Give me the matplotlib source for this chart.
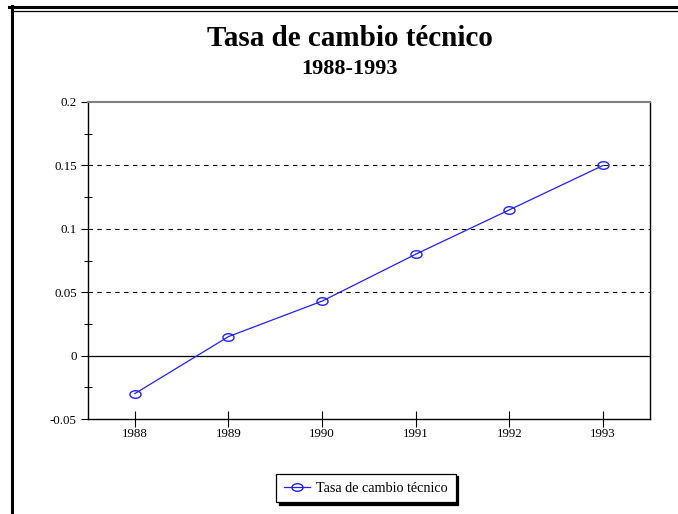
import matplotlib

matplotlib.use("Agg")

import matplotlib.pyplot as plt
import numpy as np
from matplotlib.lines import Line2D
from matplotlib.ticker import FixedLocator, MultipleLocator

years = [1988, 1989, 1990, 1991, 1992, 1993]
rates = [-0.030, 0.015, 0.043, 0.080, 0.115, 0.150]
y_ticks = [-0.05, 0, 0.05, 0.1, 0.15, 0.2]
y_labels = ["-0.05", "0", "0.05", "0.1", "0.15", "0.2"]
series_name = "Tasa de cambio técnico"

plt.rcParams["font.family"] = ["Liberation Serif", "DejaVu Serif"]

W, H = 678, 514
fig = plt.figure(figsize=(W / 100, H / 100), dpi=100)
ax = fig.add_axes([88 / W, 1 - 419 / H, (650 - 88) / W, (419 - 102) / H])

# frame lines around the chart area
fig.add_artist(Line2D([9 / W, 1], [1 - 7 / H, 1 - 7 / H], color="black", lw=2.2))
fig.add_artist(Line2D([13 / W, 1], [1 - 10.5 / H, 1 - 10.5 / H], color="black", lw=0.9))
fig.add_artist(Line2D([11.5 / W, 11.5 / W], [0, 1 - 6 / H], color="black", lw=2.2))

fig.text(350 / W, 1 - 39 / H, "Tasa de cambio técnico", ha="center", va="center",
         fontsize=21, fontweight="bold")
fig.text(350 / W, 1 - 69 / H, "1988-1993", ha="center", va="center",
         fontsize=16, fontweight="bold")

for v in [0.05, 0.1, 0.15]:
    ax.axhline(v, color="black", lw=0.8, ls=(0, (4, 4)), zorder=1)
ax.axhline(0, color="black", lw=0.9, zorder=1)

# flat ellipse marker like the original
t = np.linspace(0, 2 * np.pi, 40)
ellipse = np.column_stack([np.cos(t), 0.68 * np.sin(t)])

ax.plot(years, rates, color="#2020ff", lw=0.9, marker=ellipse, markersize=8,
        markerfacecolor="none", markeredgecolor="#2020ff", markeredgewidth=1.0,
        label=series_name, zorder=3)

ax.set_xlim(1987.5, 1993.5)
ax.set_ylim(-0.05, 0.2)
ax.set_xticks(years)
ax.set_xticklabels([str(y) for y in years])
ax.yaxis.set_major_locator(FixedLocator(y_ticks))
ax.set_yticklabels(y_labels)
ax.yaxis.set_minor_locator(MultipleLocator(0.025))

ax.tick_params(axis="x", direction="inout", length=11, width=0.8, labelsize=9.3, pad=1)
ax.tick_params(axis="y", which="major", direction="out", length=5, width=0.8,
               labelsize=9.3, pad=3)
ax.tick_params(axis="y", which="minor", direction="inout", length=6, width=0.8)

for side in ["left", "right", "bottom"]:
    ax.spines[side].set_color("black")
    ax.spines[side].set_linewidth(1.0)
ax.spines["top"].set_color("#808080")
ax.spines["top"].set_linewidth(1.5)

leg = ax.legend(loc="center", bbox_to_anchor=(366 / W, 1 - 488 / H),
                bbox_transform=fig.transFigure, fancybox=False, framealpha=1,
                edgecolor="black", fontsize=10.2, handlelength=1.8,
                handletextpad=0.45, shadow={"color": "black", "alpha": 1},
                borderpad=0.55)
leg.get_frame().set_linewidth(0.9)

fig.savefig("out.png", dpi=100)
plt.close(fig)
